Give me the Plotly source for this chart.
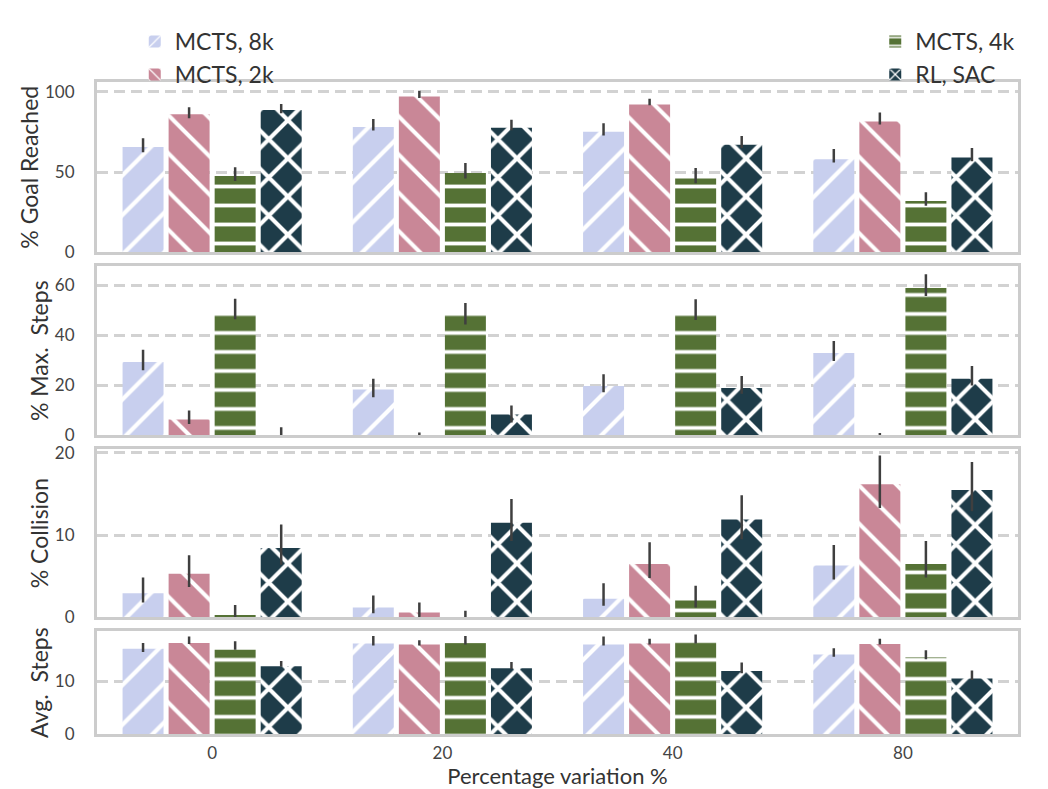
import plotly.graph_objects as go
from plotly.subplots import make_subplots

categories = ["0", "20", "40", "80"]
series_names = ["MCTS, 8k", "MCTS, 2k", "MCTS, 4k", "RL, SAC"]
series_colors = ["#c8cfee", "#c98797", "#557235", "#1e3c49"]
series_hatch = ["/", "\\", "-", "x"]
hatch_size = [28, 27, 19, 27]
hatch_solidity = [0.15, 0.15, 0.2, 0.28]

# rows = series (8k, 2k, 4k, SAC), columns = categories
goal_mean = [[65.6, 78.0, 75.0, 58.0], [86.0, 97.0, 92.0, 81.5], [47.5, 49.5, 46.0, 32.0], [88.6, 77.5, 67.0, 59.0]]
goal_lo = [[62.3, 75.8, 72.8, 56.0], [83.5, 96.0, 91.5, 79.5], [44.5, 46.0, 43.0, 29.0], [86.5, 76.0, 65.0, 56.8]]
goal_hi = [[71.0, 83.0, 80.3, 64.3], [90.3, 100.5, 95.6, 87.0], [53.0, 55.6, 52.5, 37.4], [92.3, 82.5, 72.5, 65.0]]

maxs_mean = [[29.2, 18.2, 19.6, 32.8], [6.2, 0.0, 0.0, 0.0], [48.2, 48.0, 48.2, 58.9], [0.0, 8.2, 18.8, 22.5]]
maxs_lo = [[25.9, 15.1, 17.1, 29.6], [4.4, 0.0, 0.0, 0.0], [46.3, 44.2, 46.0, 55.7], [0.0, 5.0, 16.5, 19.8]]
maxs_hi = [[34.1, 22.5, 24.3, 37.6], [9.8, 1.0, 0.0, 0.8], [54.6, 52.9, 54.4, 64.4], [3.1, 11.8, 23.6, 27.6]]

coll_mean = [[2.94, 1.2, 2.25, 6.3], [5.3, 0.58, 6.5, 16.2], [0.3, 0.0, 2.04, 6.5], [8.45, 11.5, 11.9, 15.5]]
coll_lo = [[1.8, 0.5, 1.4, 4.6], [3.7, 0.0, 4.8, 13.3], [0.0, 0.0, 1.2, 4.86], [6.4, 9.3, 9.5, 12.9]]
coll_hi = [[4.86, 2.65, 4.16, 8.8], [7.55, 1.8, 9.14, 19.7], [1.5, 0.8, 3.85, 9.3], [11.3, 14.4, 14.86, 18.9]]

avg_mean = [[16.1, 17.1, 16.9, 15.0], [17.2, 16.9, 17.1, 17.0], [15.9, 17.2, 17.3, 14.5], [12.8, 12.4, 11.9, 10.5]]
avg_lo = [[15.5, 16.7, 16.7, 14.6], [17.0, 16.7, 16.9, 16.9], [15.9, 16.9, 17.1, 14.1], [12.7, 12.3, 11.5, 10.2]]
avg_hi = [[17.2, 18.5, 18.4, 16.2], [18.4, 17.7, 18.0, 18.0], [17.5, 18.5, 18.8, 15.8], [13.8, 13.6, 13.5, 12.0]]

metric_titles = ["% Goal Reached", "% Max.  Steps", "% Collision", "Avg.  Steps"]
metric_ranges = [[0, 106], [0, 67.5], [0, 20.5], [0, 19.4]]
metric_ticks = [[0, 50, 100], [0, 20, 40, 60], [0, 10, 20], [0, 10]]
x_title = "Percentage variation %"

metrics = [
    (goal_mean, goal_lo, goal_hi),
    (maxs_mean, maxs_lo, maxs_hi),
    (coll_mean, coll_lo, coll_hi),
    (avg_mean, avg_lo, avg_hi),
]

FONT = "Lato"
fig = make_subplots(rows=4, cols=1, shared_xaxes=True)

for r, (mean, lo, hi) in enumerate(metrics, start=1):
    for s in range(4):
        up = [h - m for h, m in zip(hi[s], mean[s])]
        dn = [m - l for m, l in zip(mean[s], lo[s])]
        fig.add_trace(go.Bar(
            x=categories, y=mean[s], name=series_names[s],
            legendgroup=series_names[s], showlegend=(r == 1),
            legend="legend" if s < 2 else "legend2",
            marker=dict(
                color=series_colors[s], line=dict(width=0),
                pattern=dict(shape=series_hatch[s], fgcolor="white", fgopacity=1,
                             bgcolor=series_colors[s], fillmode="overlay",
                             size=hatch_size[s], solidity=hatch_solidity[s]),
            ),
            error_y=dict(type="data", symmetric=False, array=up, arrayminus=dn,
                         color="#3f3f3f", thickness=2.5, width=0),
        ), row=r, col=1)

domains = [[0.7385, 1.0], [0.4587, 0.7171], [0.1789, 0.4373], [0.0, 0.1575]]
axis_common = dict(showline=True, linecolor="#cccccc", linewidth=3, mirror=True, zeroline=False)
for i in range(4):
    yname = "yaxis" if i == 0 else f"yaxis{i+1}"
    xname = "xaxis" if i == 0 else f"xaxis{i+1}"
    fig.layout[yname].update(
        domain=domains[i], range=metric_ranges[i], tickvals=metric_ticks[i],
        showgrid=True, gridcolor="#d2d2d2", gridwidth=2.5, griddash="11px,6px",
        ticks="", ticklabelstandoff=16,
        tickfont=dict(family=FONT, size=17, color="#444444"),
        title=dict(text=metric_titles[i], font=dict(family=FONT, size=23, color="#333333"), standoff=0),
        **axis_common,
    )
    fig.layout[xname].update(
        showgrid=False, ticks="", range=[-0.5, 3.5],
        showticklabels=(i == 3),
        tickfont=dict(family=FONT, size=17, color="#444444"),
        **axis_common,
    )
fig.layout["xaxis4"].update(
    automargin=False,
    title=dict(text=x_title, font=dict(family=FONT, size=22, color="#333333"), standoff=4),
    ticklabelstandoff=2,
)

legend_style = dict(y=1.095, xanchor="left", yanchor="top",
                    orientation="v", font=dict(family=FONT, size=23, color="#333333"),
                    bgcolor="rgba(0,0,0,0)", tracegroupgap=0)
fig.update_layout(
    width=1040, height=781,
    margin=dict(l=89, r=30, t=72, b=55),
    plot_bgcolor="white", paper_bgcolor="white",
    barmode="group", bargap=0.2, bargroupgap=0.11,
    font=dict(family=FONT, color="#333333"),
    legend=dict(x=0.041, **legend_style),
    legend2=dict(x=0.845, **legend_style),
)

fig.write_html("out.html")
